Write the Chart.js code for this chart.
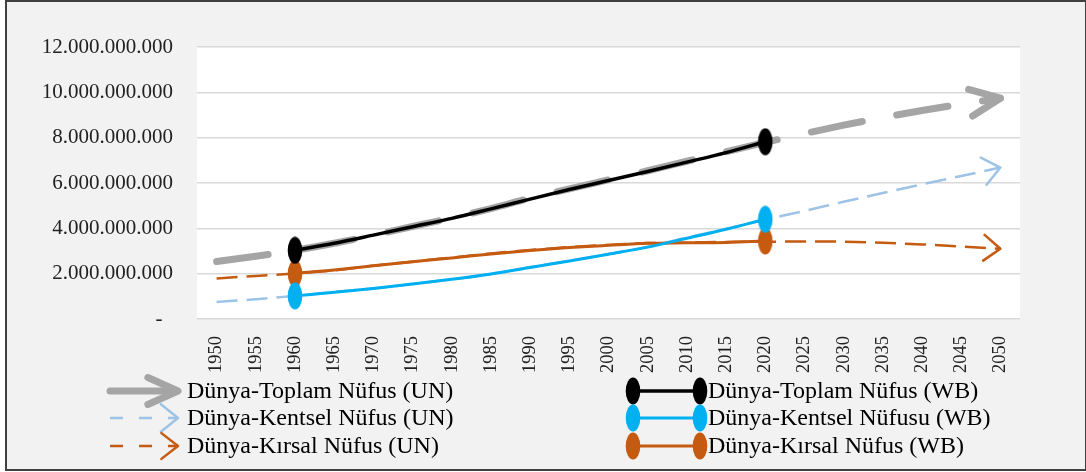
<!DOCTYPE html>
<html>
<head>
<meta charset="utf-8">
<script src="https://cdn.jsdelivr.net/npm/chart.js@4.4.0/dist/chart.umd.min.js"></script>
<style>
  html, body { margin: 0; padding: 0; background: #fff; }
  canvas { display: block; }
</style>
</head>
<body>
<canvas id="popChart" width="1086" height="472"></canvas>
<script>
// years on the x axis
const years = ["1950", "1955", "1960", "1965", "1970", "1975", "1980", "1985", "1990", "1995", "2000",
  "2005", "2010", "2015", "2020", "2025", "2030", "2035", "2040", "2045", "2050"];

// UN series (1950-2050)
const unTotal = [2.54e9, 2.77e9, 3.03e9, 3.34e9, 3.70e9, 4.08e9, 4.46e9, 4.87e9, 5.33e9, 5.74e9, 6.14e9,
  6.54e9, 6.96e9, 7.38e9, 7.79e9, 8.18e9, 8.55e9, 8.89e9, 9.20e9, 9.48e9, 9.74e9];
const unUrban = [0.75e9, 0.87e9, 1.02e9, 1.19e9, 1.35e9, 1.54e9, 1.75e9, 1.98e9, 2.29e9, 2.57e9, 2.87e9,
  3.19e9, 3.59e9, 3.98e9, 4.38e9, 4.77e9, 5.17e9, 5.56e9, 5.94e9, 6.31e9, 6.68e9];
const unRural = [1.79e9, 1.90e9, 2.01e9, 2.14e9, 2.35e9, 2.53e9, 2.71e9, 2.89e9, 3.04e9, 3.17e9, 3.27e9,
  3.35e9, 3.37e9, 3.40e9, 3.41e9, 3.42e9, 3.41e9, 3.36e9, 3.29e9, 3.20e9, 3.10e9];

// World Bank series (1960-2020)
const wbTotal = [null, null, 3.03e9, 3.34e9, 3.70e9, 4.07e9, 4.44e9, 4.86e9, 5.29e9, 5.71e9, 6.11e9,
  6.51e9, 6.92e9, 7.34e9, 7.82e9, null, null, null, null, null, null];
const wbUrban = [null, null, 1.02e9, 1.18e9, 1.35e9, 1.54e9, 1.75e9, 1.99e9, 2.27e9, 2.56e9, 2.86e9,
  3.17e9, 3.56e9, 3.96e9, 4.40e9, null, null, null, null, null, null];
const wbRural = [null, null, 2.01e9, 2.16e9, 2.35e9, 2.53e9, 2.69e9, 2.87e9, 3.02e9, 3.15e9, 3.25e9,
  3.34e9, 3.36e9, 3.38e9, 3.44e9, null, null, null, null, null, null];

const yTicks = [0, 2e9, 4e9, 6e9, 8e9, 10e9, 12e9];

const SERIF = "'Liberation Serif', 'Times New Roman', serif";

function fmt(v) {
  if (v === 0) return "-  ";
  return String(Math.round(v)).replace(/\B(?=(\d{3})+(?!\d))/g, ".");
}

// tall oval marker used on the WB lines
function oval(color) {
  const cv = document.createElement("canvas");
  cv.width = 16;
  cv.height = 28;
  const c = cv.getContext("2d");
  c.fillStyle = color;
  c.beginPath();
  c.ellipse(8, 14, 7.3, 13.5, 0, 0, Math.PI * 2);
  c.fill();
  return cv;
}

const ovalBlack = oval("#000000");
const ovalBlue = oval("#00b0f0");
const ovalOrange = oval("#c55a11");

function endsOnly(ctx) {
  const d = ctx.dataset.data, i = ctx.dataIndex;
  if (d[i] == null) return 0;
  return (d[i - 1] == null || d[i + 1] == null) ? 3 : 0;
}

function drawHead(c, x, y, ang, len, spread, color, w) {
  c.save();
  c.setLineDash([]);
  c.strokeStyle = color;
  c.lineWidth = w;
  c.lineCap = "round";
  c.lineJoin = "round";
  c.beginPath();
  c.moveTo(x + len * Math.cos(ang + Math.PI - spread), y + len * Math.sin(ang + Math.PI - spread));
  c.lineTo(x, y);
  c.lineTo(x + len * Math.cos(ang + Math.PI + spread), y + len * Math.sin(ang + Math.PI + spread));
  c.stroke();
  c.restore();
}

const background = {
  id: "background",
  beforeDraw(chart) {
    const c = chart.ctx, a = chart.chartArea;
    c.save();
    c.fillStyle = "#ffffff";
    c.fillRect(0, 0, chart.width, chart.height);
    c.fillStyle = "#f2f2f2";
    c.fillRect(6, 1, 1080, 469);
    c.strokeStyle = "#404040";
    c.lineWidth = 2;
    c.strokeRect(6, 1, 1080, 469);
    c.fillStyle = "#ffffff";
    c.fillRect(a.left, a.top, a.right - a.left, a.bottom - a.top);
    c.restore();
  }
};

const arrows = {
  id: "arrows",
  afterDatasetsDraw(chart) {
    const c = chart.ctx;
    chart.data.datasets.forEach((ds, i) => {
      if (!ds.arrowLen) return;
      const pts = chart.getDatasetMeta(i).data;
      const a = pts[pts.length - 2], b = pts[pts.length - 1];
      const ang = Math.atan2(b.y - a.y, b.x - a.x);
      drawHead(c, b.x, b.y, ang, ds.arrowLen, ds.arrowSpread, ds.borderColor, ds.borderWidth);
    });
  }
};

const legendRows = [391, 418, 446];

const customLegend = {
  id: "customLegend",
  afterDraw(chart) {
    const c = chart.ctx;
    const sets = chart.data.datasets;
    const un = sets.filter(d => d.arrowLen);
    const wb = sets.filter(d => !d.arrowLen);
    c.save();
    c.font = "24px " + SERIF;
    c.textBaseline = "middle";
    c.fillStyle = "#000";
    un.forEach((ds, k) => {
      const y = legendRows[k];
      c.save();
      c.strokeStyle = ds.borderColor;
      c.lineWidth = ds.borderWidth;
      c.lineCap = ds.borderCapStyle || "butt";
      c.setLineDash(ds.legendDash);
      c.beginPath();
      c.moveTo(110, y);
      c.lineTo(176, y);
      c.stroke();
      c.restore();
      drawHead(c, 178, y, 0, ds.arrowLen, ds.arrowSpread, ds.borderColor, ds.borderWidth);
      c.fillText(ds.label, 187, y + 1);
    });
    wb.forEach((ds, k) => {
      const y = legendRows[k];
      c.save();
      c.strokeStyle = ds.borderColor;
      c.lineWidth = ds.borderWidth;
      c.beginPath();
      c.moveTo(633, y);
      c.lineTo(700, y);
      c.stroke();
      c.drawImage(ds.pointStyle, 633 - 8, y - 14);
      c.drawImage(ds.pointStyle, 700 - 8, y - 14);
      c.restore();
      c.fillText(ds.label, 708, y + 1);
    });
    c.restore();
  }
};

new Chart(document.getElementById("popChart"), {
  type: "line",
  data: {
    labels: years,
    datasets: [
      {
        label: "Dünya-Toplam Nüfus (WB)",
        data: wbTotal,
        borderColor: "#000000",
        borderWidth: 3.5,
        pointStyle: ovalBlack,
        pointRadius: endsOnly,
        pointBorderWidth: 0,
        cubicInterpolationMode: "monotone",
      },
      {
        label: "Dünya-Kentsel Nüfusu (WB)",
        data: wbUrban,
        borderColor: "#00b0f0",
        borderWidth: 3,
        pointStyle: ovalBlue,
        pointRadius: endsOnly,
        pointBorderWidth: 0,
        cubicInterpolationMode: "monotone",
      },
      {
        label: "Dünya-Kırsal Nüfus (WB)",
        data: wbRural,
        borderColor: "#c55a11",
        borderWidth: 3,
        pointStyle: ovalOrange,
        pointRadius: endsOnly,
        pointBorderWidth: 0,
        cubicInterpolationMode: "monotone",
      },
      {
        label: "Dünya-Toplam Nüfus (UN)",
        data: unTotal,
        borderColor: "#a5a5a5",
        borderWidth: 7,
        borderDash: [52, 35],
        borderCapStyle: "round",
        legendDash: [],
        arrowLen: 33,
        arrowSpread: 0.42,
        pointRadius: 0,
        cubicInterpolationMode: "monotone",
      },
      {
        label: "Dünya-Kentsel Nüfus (UN)",
        data: unUrban,
        borderColor: "#9dc3e6",
        borderWidth: 2.5,
        borderDash: [21, 9],
        legendDash: [13, 16],
        arrowLen: 22,
        arrowSpread: 0.68,
        pointRadius: 0,
        cubicInterpolationMode: "monotone",
      },
      {
        label: "Dünya-Kırsal Nüfus (UN)",
        data: unRural,
        borderColor: "#c55a11",
        borderWidth: 2.5,
        borderDash: [21, 9],
        legendDash: [13, 16],
        arrowLen: 21,
        arrowSpread: 0.66,
        pointRadius: 0,
        cubicInterpolationMode: "monotone",
      },
    ],
  },
  options: {
    responsive: false,
    animation: false,
    layout: { padding: { left: 0, top: 47, right: 66, bottom: 0 } },
    plugins: {
      legend: { display: false },
      tooltip: { enabled: false },
    },
    scales: {
      x: {
        type: "category",
        offset: true,
        grid: { display: false },
        border: { display: false },
        ticks: {
          autoSkip: false,
          minRotation: 90,
          maxRotation: 90,
          padding: 9,
          color: "#222",
          font: { family: SERIF, size: 18.5 },
        },
        afterFit: s => { s.height = 153; },
      },
      y: {
        min: 0,
        max: 12e9,
        afterBuildTicks: s => { s.ticks = yTicks.map(v => ({ value: v })); },
        grid: { color: "#d9d9d9", lineWidth: 1.5, drawTicks: false },
        border: { display: false },
        ticks: {
          padding: 24,
          color: "#222",
          font: { family: SERIF, size: 21 },
          callback: v => fmt(v),
        },
        afterFit: s => { s.width = 197; },
      },
    },
  },
  plugins: [background, arrows, customLegend],
});
</script>
</body>
</html>
